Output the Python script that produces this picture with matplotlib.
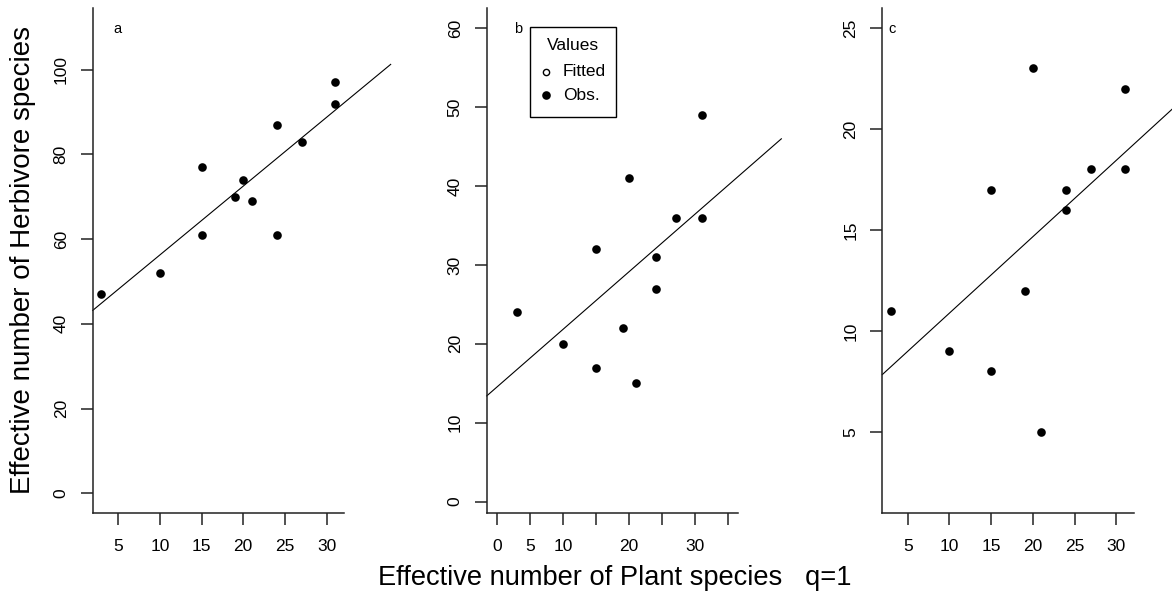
import numpy as np
import matplotlib
matplotlib.use("Agg")
import matplotlib.pyplot as plt
from matplotlib.lines import Line2D
from matplotlib.patches import Rectangle

# Effective number of plant species (q=1) per site
plant = [3, 10, 15, 15, 19, 20, 21, 24, 24, 27, 31, 31]
# Effective number of herbivore species, one series per panel
herb_a = [47, 52, 77, 61, 70, 74, 69, 87, 61, 83, 97, 92]
herb_b = [24, 20, 32, 17, 22, 41, 15, 31, 27, 36, 49, 36]
herb_c = [11, 9, 17, 8, 12, 23, 5, 17, 16, 18, 22, 18]

panel_letters = ["a", "b", "c"]
xticks_a = [5, 10, 15, 20, 25, 30]
xticks_b = [0, 5, 10, 15, 20, 25, 30, 35]
xticklabels_b = ["0", "5", "10", "", "20", "", "30", ""]
yticks_a = [0, 20, 40, 60, 80, 100]
yticks_b = [0, 10, 20, 30, 40, 50, 60]
yticks_c = [5, 10, 15, 20, 25]

legend_title = "Values"
legend_labels = ["Fitted", "Obs."]
xlabel = "Effective number of Plant species   q=1"
ylabel = "Effective number of Herbivore species"

W, H = 1172, 595
plt.rcParams["font.family"] = ["Liberation Sans", "DejaVu Sans"]
fig = plt.figure(figsize=(W / 100, H / 100), dpi=100)


def axes_px(left, right, top, bottom):
    return fig.add_axes([left / W, 1 - bottom / H, (right - left) / W, (bottom - top) / H])


AXC = "#222222"
MS = 6.2
panels = [
    dict(box=(92.7, 344.3, 7.8, 512.7), xlim=(1.95, 32.12), ylim=(-4.6, 114.6),
         y=herb_a, xt=xticks_a, xtl=None, yt=yticks_a, edge=W / 3),
    dict(box=(486.7, 737.7, 7.8, 512.7), xlim=(-1.55, 36.4), ylim=(-1.4, 62.6),
         y=herb_b, xt=xticks_b, xtl=xticklabels_b, yt=yticks_b, edge=2 * W / 3),
    dict(box=(882.3, 1134.0, 7.8, 512.7), xlim=(1.95, 32.12), ylim=(1.0, 26.0),
         y=herb_c, xt=xticks_a, xtl=None, yt=yticks_c, edge=W),
]

axes = []
for i, p in enumerate(panels):
    ax = axes_px(*p["box"])
    axes.append(ax)
    ax.set_xlim(*p["xlim"])
    ax.set_ylim(*p["ylim"])
    for s in ("top", "right"):
        ax.spines[s].set_visible(False)
    for s in ("left", "bottom"):
        ax.spines[s].set_color(AXC)
        ax.spines[s].set_linewidth(1.1)
    ax.set_xticks(p["xt"])
    if p["xtl"] is not None:
        ax.set_xticklabels(p["xtl"])
    ax.set_yticks(p["yt"])
    ax.tick_params(axis="both", direction="out", length=8.3, width=1.1,
                   color=AXC, labelsize=12.5, labelcolor="black")
    ax.tick_params(axis="x", pad=10.5)
    ax.tick_params(axis="y", pad=9)
    for lbl in ax.get_yticklabels():
        lbl.set_rotation(90)
        lbl.set_va("center")

    # observed values
    ax.plot(plant, p["y"], "o", color="black", ms=MS, mec="black", mew=0,
            linestyle="none", clip_on=False)

    # least-squares fitted line, running to the edge of the panel's figure slot
    slope, icpt = np.polyfit(plant, p["y"], 1)
    x_right = ax.transData.inverted().transform(
        fig.transFigure.transform((p["edge"] / W, 0.5)))[0]
    xs = np.array([p["xlim"][0], x_right])
    ax.plot(xs, icpt + slope * xs, color="black", lw=0.8, clip_on=False)

    ax.text(0.083 if i == 0 else (0.11 if i == 1 else 0.025), 0.958, panel_letters[i],
            transform=ax.transAxes, fontsize=10.5, ha="left", va="center")

# legend box in panel b
def fx(px):
    return px / W


def fy(py):
    return 1 - py / H


fig.patches.append(Rectangle((fx(530), fy(116.7)), fx(616) - fx(530), fy(27.3) - fy(116.7),
                             transform=fig.transFigure, fill=False, ec="black", lw=1.0))
fig.text(fx(573), fy(45), legend_title, ha="center", va="center", fontsize=12.5)
fig.lines.append(Line2D([fx(546)], [fy(71.7)], marker="o", ms=4.5, mfc="white",
                        mec="black", mew=1.0, transform=fig.transFigure))
fig.lines.append(Line2D([fx(546)], [fy(95)], marker="o", ms=MS, mfc="black",
                        mec="black", mew=0, transform=fig.transFigure))
fig.text(fx(563), fy(71.7), legend_labels[0], ha="left", va="center", fontsize=12.5)
fig.text(fx(563), fy(95), legend_labels[1], ha="left", va="center", fontsize=12.5)

# shared axis titles
fig.text(fx(23), fy(260), ylabel, rotation=90, ha="center", va="center", fontsize=20)
fig.text(fx(378), fy(578), xlabel, ha="left", va="center", fontsize=19.6)

fig.savefig("out.png", dpi=100)
